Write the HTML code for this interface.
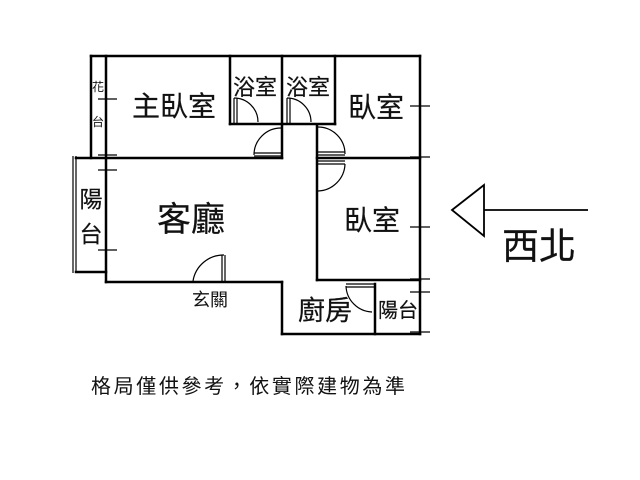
<!DOCTYPE html>
<html><head><meta charset="utf-8"><style>
html,body{margin:0;padding:0;background:#fff;width:640px;height:480px;overflow:hidden}
svg{display:block}
text{font-family:"Liberation Sans","Noto Sans CJK TC",sans-serif;fill:#111}
</style></head><body>
<svg width="640" height="480" viewBox="0 0 640 480">
<g stroke="#000" stroke-width="2.5" fill="none" stroke-linecap="square">
<line x1="91" y1="56" x2="420" y2="56"/>
<line x1="91" y1="56" x2="91" y2="158"/>
<line x1="106" y1="56" x2="106" y2="282"/>
<line x1="420" y1="56" x2="420" y2="334"/>
<line x1="230" y1="56" x2="230" y2="124"/>
<line x1="230" y1="124" x2="335" y2="124"/>
<line x1="282" y1="56" x2="282" y2="158"/>
<line x1="335" y1="56" x2="335" y2="124"/>
<line x1="76" y1="158" x2="282" y2="158"/>
<line x1="317" y1="158" x2="420" y2="158"/>
<line x1="317" y1="126" x2="317" y2="280"/>
<line x1="317" y1="280" x2="420" y2="280"/>
<line x1="76" y1="272" x2="106" y2="272"/>
<line x1="106" y1="282" x2="282" y2="282"/>
<line x1="282" y1="282" x2="282" y2="334"/>
<line x1="282" y1="334" x2="420" y2="334"/>
<line x1="375" y1="284" x2="375" y2="334"/>
</g>
<g stroke="#000" stroke-width="1.2" fill="none">
<line x1="73" y1="156" x2="73" y2="273"/>
<line x1="76" y1="156" x2="76" y2="273"/>
<line x1="98" y1="99" x2="117" y2="99"/>
<line x1="98" y1="155" x2="117" y2="155"/>
<line x1="98" y1="170" x2="117" y2="170"/>
<line x1="98" y1="250" x2="117" y2="250"/>
<line x1="410" y1="106" x2="430" y2="106"/>
<line x1="410" y1="157" x2="430" y2="157"/>
<line x1="410" y1="227" x2="430" y2="227"/>
<line x1="410" y1="279" x2="430" y2="279"/>
<line x1="410" y1="292" x2="430" y2="292"/>
<line x1="410" y1="332" x2="430" y2="332"/>
<path d="M234 98 A24 24 0 0 1 258 122"/><line x1="234" y1="98" x2="234" y2="123"/><line x1="237" y1="98" x2="237" y2="123"/>
<path d="M287 98 A24 24 0 0 1 311 122"/><line x1="287" y1="98" x2="287" y2="123"/><line x1="290" y1="98" x2="290" y2="123"/>
<path d="M254 155 A27 27 0 0 1 281 128"/><line x1="254" y1="153" x2="281" y2="153"/><line x1="254" y1="156" x2="281" y2="156"/>
<path d="M318 127 A27 27 0 0 1 345 154"/><line x1="318" y1="152" x2="345" y2="152"/><line x1="318" y1="155" x2="345" y2="155"/>
<path d="M318 191 A28 28 0 0 0 345 164"/><line x1="318" y1="161" x2="345" y2="161"/><line x1="318" y1="164" x2="345" y2="164"/>
<path d="M193 281 A31 31 0 0 1 224 255"/><line x1="222" y1="255" x2="222" y2="281"/><line x1="225" y1="255" x2="225" y2="281"/>
<path d="M346 286 A27 27 0 0 0 372 312"/><line x1="346" y1="284" x2="375" y2="284"/><line x1="346" y1="287" x2="375" y2="287"/>
<polygon points="452,210 484,185 484,236" stroke-width="1.8"/>
<line x1="484" y1="210" x2="588" y2="210" stroke-width="1.8"/>
</g>
<g stroke="#111" stroke-width="0.2">
<text x="174" y="116" font-size="28" text-anchor="middle">主臥室</text>
<text x="255" y="95" font-size="22" text-anchor="middle">浴室</text>
<text x="308" y="95" font-size="22" text-anchor="middle">浴室</text>
<text x="376" y="117" font-size="28" text-anchor="middle">臥室</text>
<text x="372" y="230" font-size="28" text-anchor="middle">臥室</text>
<text x="191" y="231" font-size="34" text-anchor="middle">客廳</text>
<text x="91" y="207" font-size="23" text-anchor="middle">陽</text>
<text x="91" y="242" font-size="23" text-anchor="middle">台</text>
<text x="325" y="320" font-size="27" text-anchor="middle">廚房</text>
<text x="398" y="317" font-size="20" text-anchor="middle">陽台</text>
<text x="539" y="259" font-size="37" text-anchor="middle">西北</text>
</g>
<text x="98" y="91" font-size="12" text-anchor="middle">花</text>
<text x="98" y="126" font-size="12" text-anchor="middle">台</text>
<text x="210" y="306" font-size="18" text-anchor="middle">玄關</text>
<text x="91" y="393" font-size="20" textLength="314">格局僅供參考，依實際建物為準</text>
</svg>
</body></html>
